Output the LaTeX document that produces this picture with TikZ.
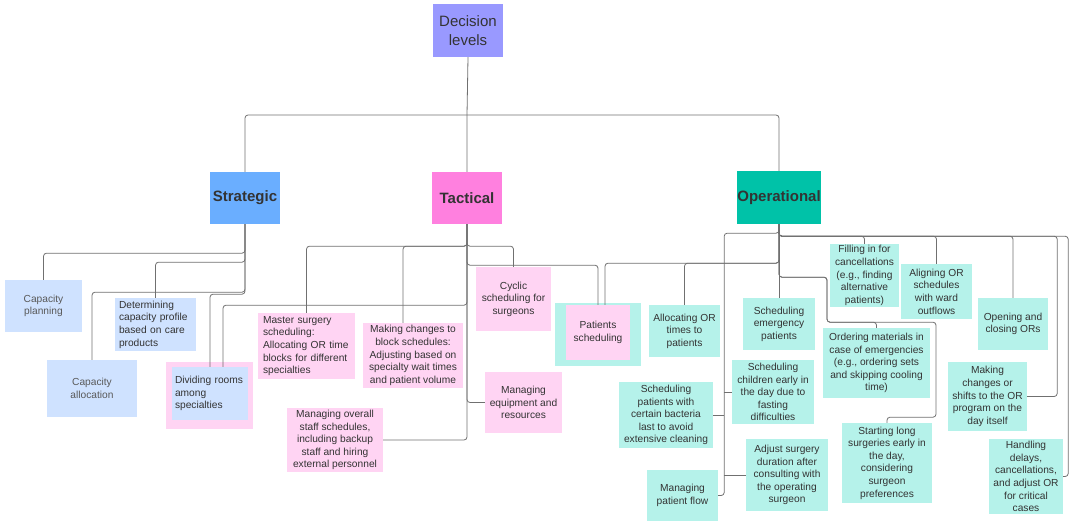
\documentclass[tikz,border=0pt]{standalone}
\usepackage{fontspec}
\setmainfont{Liberation Sans}
\definecolor{cdl}{HTML}{9999FF}
\definecolor{cst}{HTML}{6AAEFF}
\definecolor{cta}{HTML}{FF80DF}
\definecolor{cop}{HTML}{00C2A8}
\definecolor{lb}{HTML}{CFE2FF}
\definecolor{lp}{HTML}{FFD4F3}
\definecolor{lt}{HTML}{B5F2EA}
\definecolor{lg}{HTML}{707070}
\definecolor{txt}{HTML}{333333}
\newcommand\mkbox[7]{\node[bx,#6,minimum width={#4-#2},minimum height={#5-#3}] (#1) at ({(#2+#4)/2},{(#3+#5)/2}) {#7};}
\tikzset{
  conn/.style={draw=lg, line width=0.8pt, rounded corners=3pt},
  bx/.style={rectangle, inner sep=0pt, align=center, font=\fontsize{10.2}{12.6}\selectfont, text=txt},
  head/.style={font=\fontsize{15}{17}\selectfont\bfseries},
  blue/.style={fill=lb},
  pink/.style={fill=lp},
  teal/.style={fill=lt},
}
\begin{document}
\begin{tikzpicture}[x=1pt,y=-1pt]
\useasboundingbox (0,0) rectangle (1070,522);
% top level
\mkbox{dl}{433}{4}{503}{57}{fill=cdl,font=\fontsize{15}{19}\selectfont}{Decision\\levels}
\mkbox{st}{210}{172}{280}{224}{fill=cst,head}{Strategic}
\mkbox{ta}{432}{172}{502}{224}{fill=cta,head}{Tactical}
\mkbox{op}{737}{171}{821}{224}{fill=cop,head}{Operational}
% strategic
\mkbox{cp}{5}{280}{82}{332}{blue,text=black!65}{Capacity\\planning}
\mkbox{dcp}{115}{298}{196}{351}{blue,align=left,inner xsep=4pt,text width=73pt}{Determining\\capacity profile\\based on care\\products}
\mkbox{ca}{47}{360}{137}{417}{blue,text=black!65}{Capacity\\allocation}
\mkbox{dr}{166}{362}{253}{429}{pink}{}
\mkbox{drin}{172}{367}{248}{420}{blue,align=left,inner xsep=3pt,text width=70pt}{Dividing rooms\\among\\specialties}
% tactical
\mkbox{ms}{258}{313}{355}{379}{pink,align=left,inner xsep=5pt,text width=87pt}{Master surgery\\scheduling:\\Allocating OR time\\blocks for different\\specialties}
\mkbox{mc}{363}{323}{463}{388}{pink}{Making changes to\\block schedules:\\Adjusting based on\\specialty wait times\\and patient volume}
\mkbox{mo}{287}{408}{383}{472}{pink}{Managing overall\\staff schedules,\\including backup\\staff and hiring\\external personnel}
\mkbox{cs}{476}{267}{551}{331}{pink}{Cyclic\\scheduling for\\surgeons}
\mkbox{me}{485}{372}{562}{433}{pink}{Managing\\equipment and\\resources}
\mkbox{ps}{555}{303}{641}{366}{teal}{}
\mkbox{psin}{566}{305}{630}{360}{pink}{Patients\\scheduling}
% operational
\mkbox{ao}{649}{305}{720}{357}{teal}{Allocating OR\\times to\\patients}
\mkbox{se}{743}{298}{815}{350}{teal}{Scheduling\\emergency\\patients}
\mkbox{sc}{732}{360}{814}{424}{teal}{Scheduling\\children early in\\the day due to\\fasting\\difficulties}
\mkbox{sb}{619}{382}{713}{448}{teal}{Scheduling\\patients with\\certain bacteria\\last to avoid\\extensive cleaning}
\mkbox{mf}{647}{470}{718}{521}{teal}{Managing\\patient flow}
\mkbox{as}{746}{439}{828}{511}{teal}{Adjust surgery\\duration after\\consulting with\\the operating\\surgeon}
\mkbox{fc}{830}{244}{899}{307}{teal}{Filling in for\\cancellations\\(e.g., finding\\alternative\\patients)}
\mkbox{al}{901}{264}{972}{319}{teal}{Aligning OR\\schedules\\with ward\\outflows}
\mkbox{om}{823}{328}{930}{398}{teal}{Ordering materials in\\case of emergencies\\(e.g., ordering sets\\and skipping cooling\\time)}
\mkbox{oc}{978}{298}{1048}{350}{teal}{Opening and\\closing ORs}
\mkbox{mk}{948}{362}{1027}{431}{teal}{Making\\changes or\\shifts to the OR\\program on the\\day itself}
\mkbox{sl}{842}{423}{932}{503}{teal}{Starting long\\surgeries early in\\the day,\\considering\\surgeon\\preferences}
\mkbox{hd}{989}{439}{1063}{514}{teal}{Handling\\delays,\\cancellations,\\and adjust OR\\for critical\\cases}
% connectors: top
\coordinate (tj) at (467,115);
\draw[conn] (dl.south) -- (tj) -- (ta.north);
\draw[conn] (st.north) |- (tj) -| (op.north);
% strategic
\draw[conn] (st.south) -- ++(0,29) -| (cp.north);
\draw[conn] (st.south) -- ++(0,38) -| (dcp.north);
\draw[conn] (st.south) -- ++(0,68) -| (ca.north);
\draw[conn] (st.south) -- ++(0,70) -| (drin.north);
% tactical
\draw[conn] (ta.south) |- (mo.east);
\draw[conn] (ta.south) |- (me.west);
\draw[conn] (ta.south) -- ++(0,22) -| (ms.north);
\draw[conn] (ta.south) -- ++(0,22) -| ([xshift=-10pt]mc.north);
\draw[conn] (ta.south) -- ++(0,22) -| (cs.north);
\draw[conn] (ta.south) -- ++(0,41) -| (psin.north);
\draw[conn] (ta.south) -- ++(0,81) -| ([xshift=13pt]drin.north);
% operational
\draw[conn] (op.south) -- (se.north);
\draw[conn] (op.south) -- ++(0,9) -| ([xshift=6pt]mf.east) -- (mf.east);
\draw[conn] ([xshift=-8pt]sc.west) -- (sc.west);
\draw[conn] ([xshift=11pt]sb.east) -- (sb.east);
\draw[conn] ([xshift=-22pt]as.west) -- (as.west);
\draw[conn] (op.south) -- ++(0,39) -| ([xshift=7pt]psin.north);
\draw[conn] (op.south) -- ++(0,39) -| (ao.north);
\draw[conn] (op.south) -- ++(0,12) -| (fc.north);
\draw[conn] (op.south) -- ++(0,12) -| (al.north);
\draw[conn] (op.south) -- ++(0,12) -| (oc.north);
\draw[conn] (op.south) -- ++(0,12) -| ([xshift=30pt]mk.east) -- (mk.east);
\draw[conn] (op.south) -- ++(0,12) -| ([xshift=5pt]hd.east) -- (hd.east);
\draw[conn] (op.south) -- ++(0,53) -- ++(48,0) -- ++(0,45) -| (om.north);
\draw[conn] (op.south) -- ++(0,53) -- ++(48,0) -- ++(0,45) -- ++(109,0) -- ++(0,95) -| (sl.north);
\end{tikzpicture}
\end{document}
